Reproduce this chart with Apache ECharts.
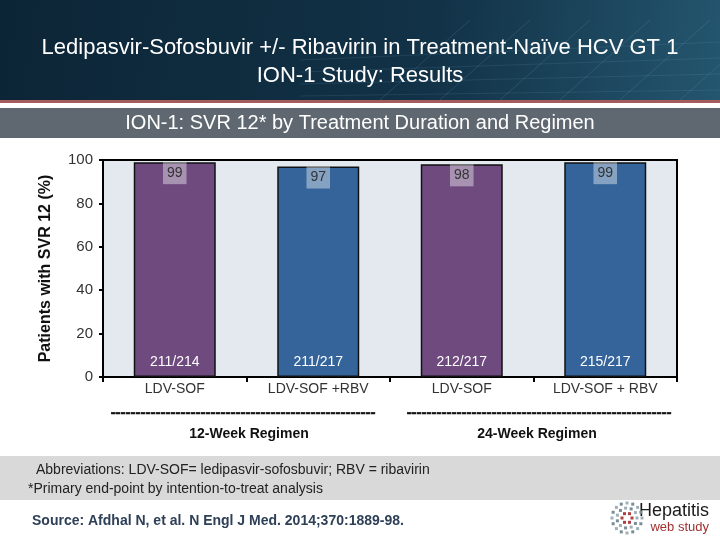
<!DOCTYPE html>
<html>
<head>
<meta charset="utf-8">
<script src="https://cdn.jsdelivr.net/npm/echarts@6/dist/echarts.min.js"></script>
<style>
html,body{margin:0;padding:0;background:#fff;}
#chart{width:720px;height:540px;}
</style>
</head>
<body>
<div id="chart"></div>
<script>
const titleLines = ['Ledipasvir-Sofosbuvir +/- Ribavirin in Treatment-Naïve HCV GT 1', 'ION-1 Study: Results'];
const subtitle = 'ION-1: SVR 12* by Treatment Duration and Regimen';
const categories = ['LDV-SOF', 'LDV-SOF +RBV', 'LDV-SOF', 'LDV-SOF + RBV'];
const svrPercent = [99, 97, 98, 99];
const responders = ['211/214', '211/217', '212/217', '215/217'];
const barColors = ['#6e4a7e', '#35649a', '#6e4a7e', '#35649a'];
const regimens = ['12-Week Regimen', '24-Week Regimen'];
const yAxisTitle = 'Patients with SVR 12 (%)';
const footnotes = ['Abbreviations: LDV-SOF= ledipasvir-sofosbuvir; RBV = ribavirin', '*Primary end-point by intention-to-treat analysis'];
const source = 'Source: Afdhal N, et al. N Engl J Med. 2014;370:1889-98.';

const chart = echarts.init(document.getElementById('chart'), null, {renderer: 'canvas'});
const FONT = 'Liberation Sans, Arial, sans-serif';
const dashes = '-'.repeat(53);

const graphics = [
  {type: 'rect', left: 0, top: 0, shape: {width: 720, height: 100}, z: 0,
   style: {fill: {type: 'linear', x: 0, y: 0, x2: 1, y2: 1, colorStops: [
     {offset: 0, color: '#0c2536'}, {offset: 0.6, color: '#123247'}, {offset: 1, color: '#24566f'}]}}},
  {type: 'rect', left: 0, top: 100, shape: {width: 720, height: 3}, style: {fill: '#a55c5c'}},
  {type: 'rect', left: 0, top: 108, shape: {width: 720, height: 30}, style: {fill: '#5f6870'}},
  {type: 'text', x: 360, y: 48, style: {text: titleLines[0], fill: '#fff', font: '22px ' + FONT, textAlign: 'center', textVerticalAlign: 'middle'}},
  {type: 'text', x: 360, y: 76, style: {text: titleLines[1], fill: '#fff', font: '22px ' + FONT, textAlign: 'center', textVerticalAlign: 'middle'}},
  {type: 'text', x: 360, y: 123, style: {text: subtitle, fill: '#fff', font: '20px ' + FONT, textAlign: 'center', textVerticalAlign: 'middle'}},
  {type: 'text', x: 243, y: 413, style: {text: dashes, fill: '#111', font: 'bold 15px ' + FONT, textAlign: 'center', textVerticalAlign: 'middle', stroke: '#111', lineWidth: 0.6}},
  {type: 'text', x: 539, y: 413, style: {text: dashes, fill: '#111', font: 'bold 15px ' + FONT, textAlign: 'center', textVerticalAlign: 'middle', stroke: '#111', lineWidth: 0.6}},
  {type: 'text', x: 249, y: 434, style: {text: regimens[0], fill: '#111', font: 'bold 14px ' + FONT, textAlign: 'center', textVerticalAlign: 'middle'}},
  {type: 'text', x: 537, y: 434, style: {text: regimens[1], fill: '#111', font: 'bold 14px ' + FONT, textAlign: 'center', textVerticalAlign: 'middle'}},
  {type: 'rect', left: 0, top: 456, shape: {width: 720, height: 44}, style: {fill: '#d9d9d9'}},
  {type: 'text', x: 36, y: 470, style: {text: footnotes[0], fill: '#222', font: '14px ' + FONT, textVerticalAlign: 'middle'}},
  {type: 'text', x: 28, y: 489, style: {text: footnotes[1], fill: '#222', font: '14px ' + FONT, textVerticalAlign: 'middle'}},
  {type: 'text', x: 32, y: 521, style: {text: source, fill: '#2e4057', font: 'bold 14px ' + FONT, textVerticalAlign: 'middle'}},
  {type: 'text', x: 709, y: 511, style: {text: 'Hepatitis', fill: '#1a1a1a', font: '18px ' + FONT, textAlign: 'right', textVerticalAlign: 'middle'}},
  {type: 'text', x: 709, y: 527, style: {text: 'web study', fill: '#a0312f', font: '13px ' + FONT, textAlign: 'right', textVerticalAlign: 'middle'}}
];
for (let i = 0; i < 6; i++) {
  graphics.push({type: 'line', shape: {x1: 380 + i * 60, y1: 100, x2: 470 + i * 60, y2: 20}, style: {stroke: 'rgba(120,170,200,0.18)', lineWidth: 1}});
}
for (let i = 0; i < 4; i++) {
  graphics.push({type: 'line', shape: {x1: 300, y1: 96 - i * 12, x2: 720, y2: 90 - i * 16}, style: {stroke: 'rgba(120,170,200,0.15)', lineWidth: 1}});
}
for (let r = 0; r < 3; r++) {
  const rad = 5 + r * 5;
  const n = 6 + r * 5;
  for (let k = 0; k < n; k++) {
    const a = k / n * Math.PI * 2;
    graphics.push({type: 'rect', shape: {x: 627 + rad * Math.cos(a) - 1.5, y: 518 + rad * Math.sin(a) - 1.5, width: 3, height: 3},
      style: {fill: r === 0 ? '#b04040' : (k % 2 ? '#7a8d96' : '#9fb0b8')}});
  }
}

chart.setOption({
  backgroundColor: '#ffffff',
  animation: false,
  textStyle: {fontFamily: FONT},
  grid: {left: 103, right: 43, top: 160, bottom: 163, show: true, backgroundColor: '#e4e8ef', borderColor: '#000', borderWidth: 2},
  xAxis: {
    type: 'category', data: categories,
    axisLine: {lineStyle: {color: '#000', width: 2}},
    axisTick: {show: true, length: 5, lineStyle: {color: '#000', width: 2}},
    axisLabel: {fontSize: 14, color: '#333', margin: 5}
  },
  yAxis: {
    type: 'value', min: 0, max: 100, interval: 20,
    name: yAxisTitle, nameLocation: 'middle', nameGap: 49,
    nameTextStyle: {fontSize: 16, fontWeight: 'bold', color: '#111'},
    axisLine: {show: true, lineStyle: {color: '#000', width: 2}},
    axisTick: {show: true, length: 4, lineStyle: {color: '#000', width: 2}},
    axisLabel: {fontSize: 15, color: '#333', margin: 10},
    splitLine: {show: false}
  },
  series: [
    {
      type: 'bar', barWidth: 82,
      data: svrPercent.map((v, i) => ({value: v, itemStyle: {color: barColors[i]}})),
      itemStyle: {borderColor: '#111', borderWidth: 1.5},
      label: {show: true, position: 'insideTop', distance: 0, color: '#333', fontSize: 14,
        backgroundColor: 'rgba(255,255,255,0.4)', padding: [4, 4, 4, 4]},
      z: 2
    },
    {
      type: 'bar', barWidth: 82, barGap: '-100%', silent: true,
      data: svrPercent,
      itemStyle: {color: 'rgba(0,0,0,0)'},
      label: {show: true, position: 'insideBottom', distance: 8, color: '#fff', fontSize: 14,
        formatter: p => responders[p.dataIndex]},
      z: 3
    }
  ],
  graphic: graphics
});
</script>
</body>
</html>
